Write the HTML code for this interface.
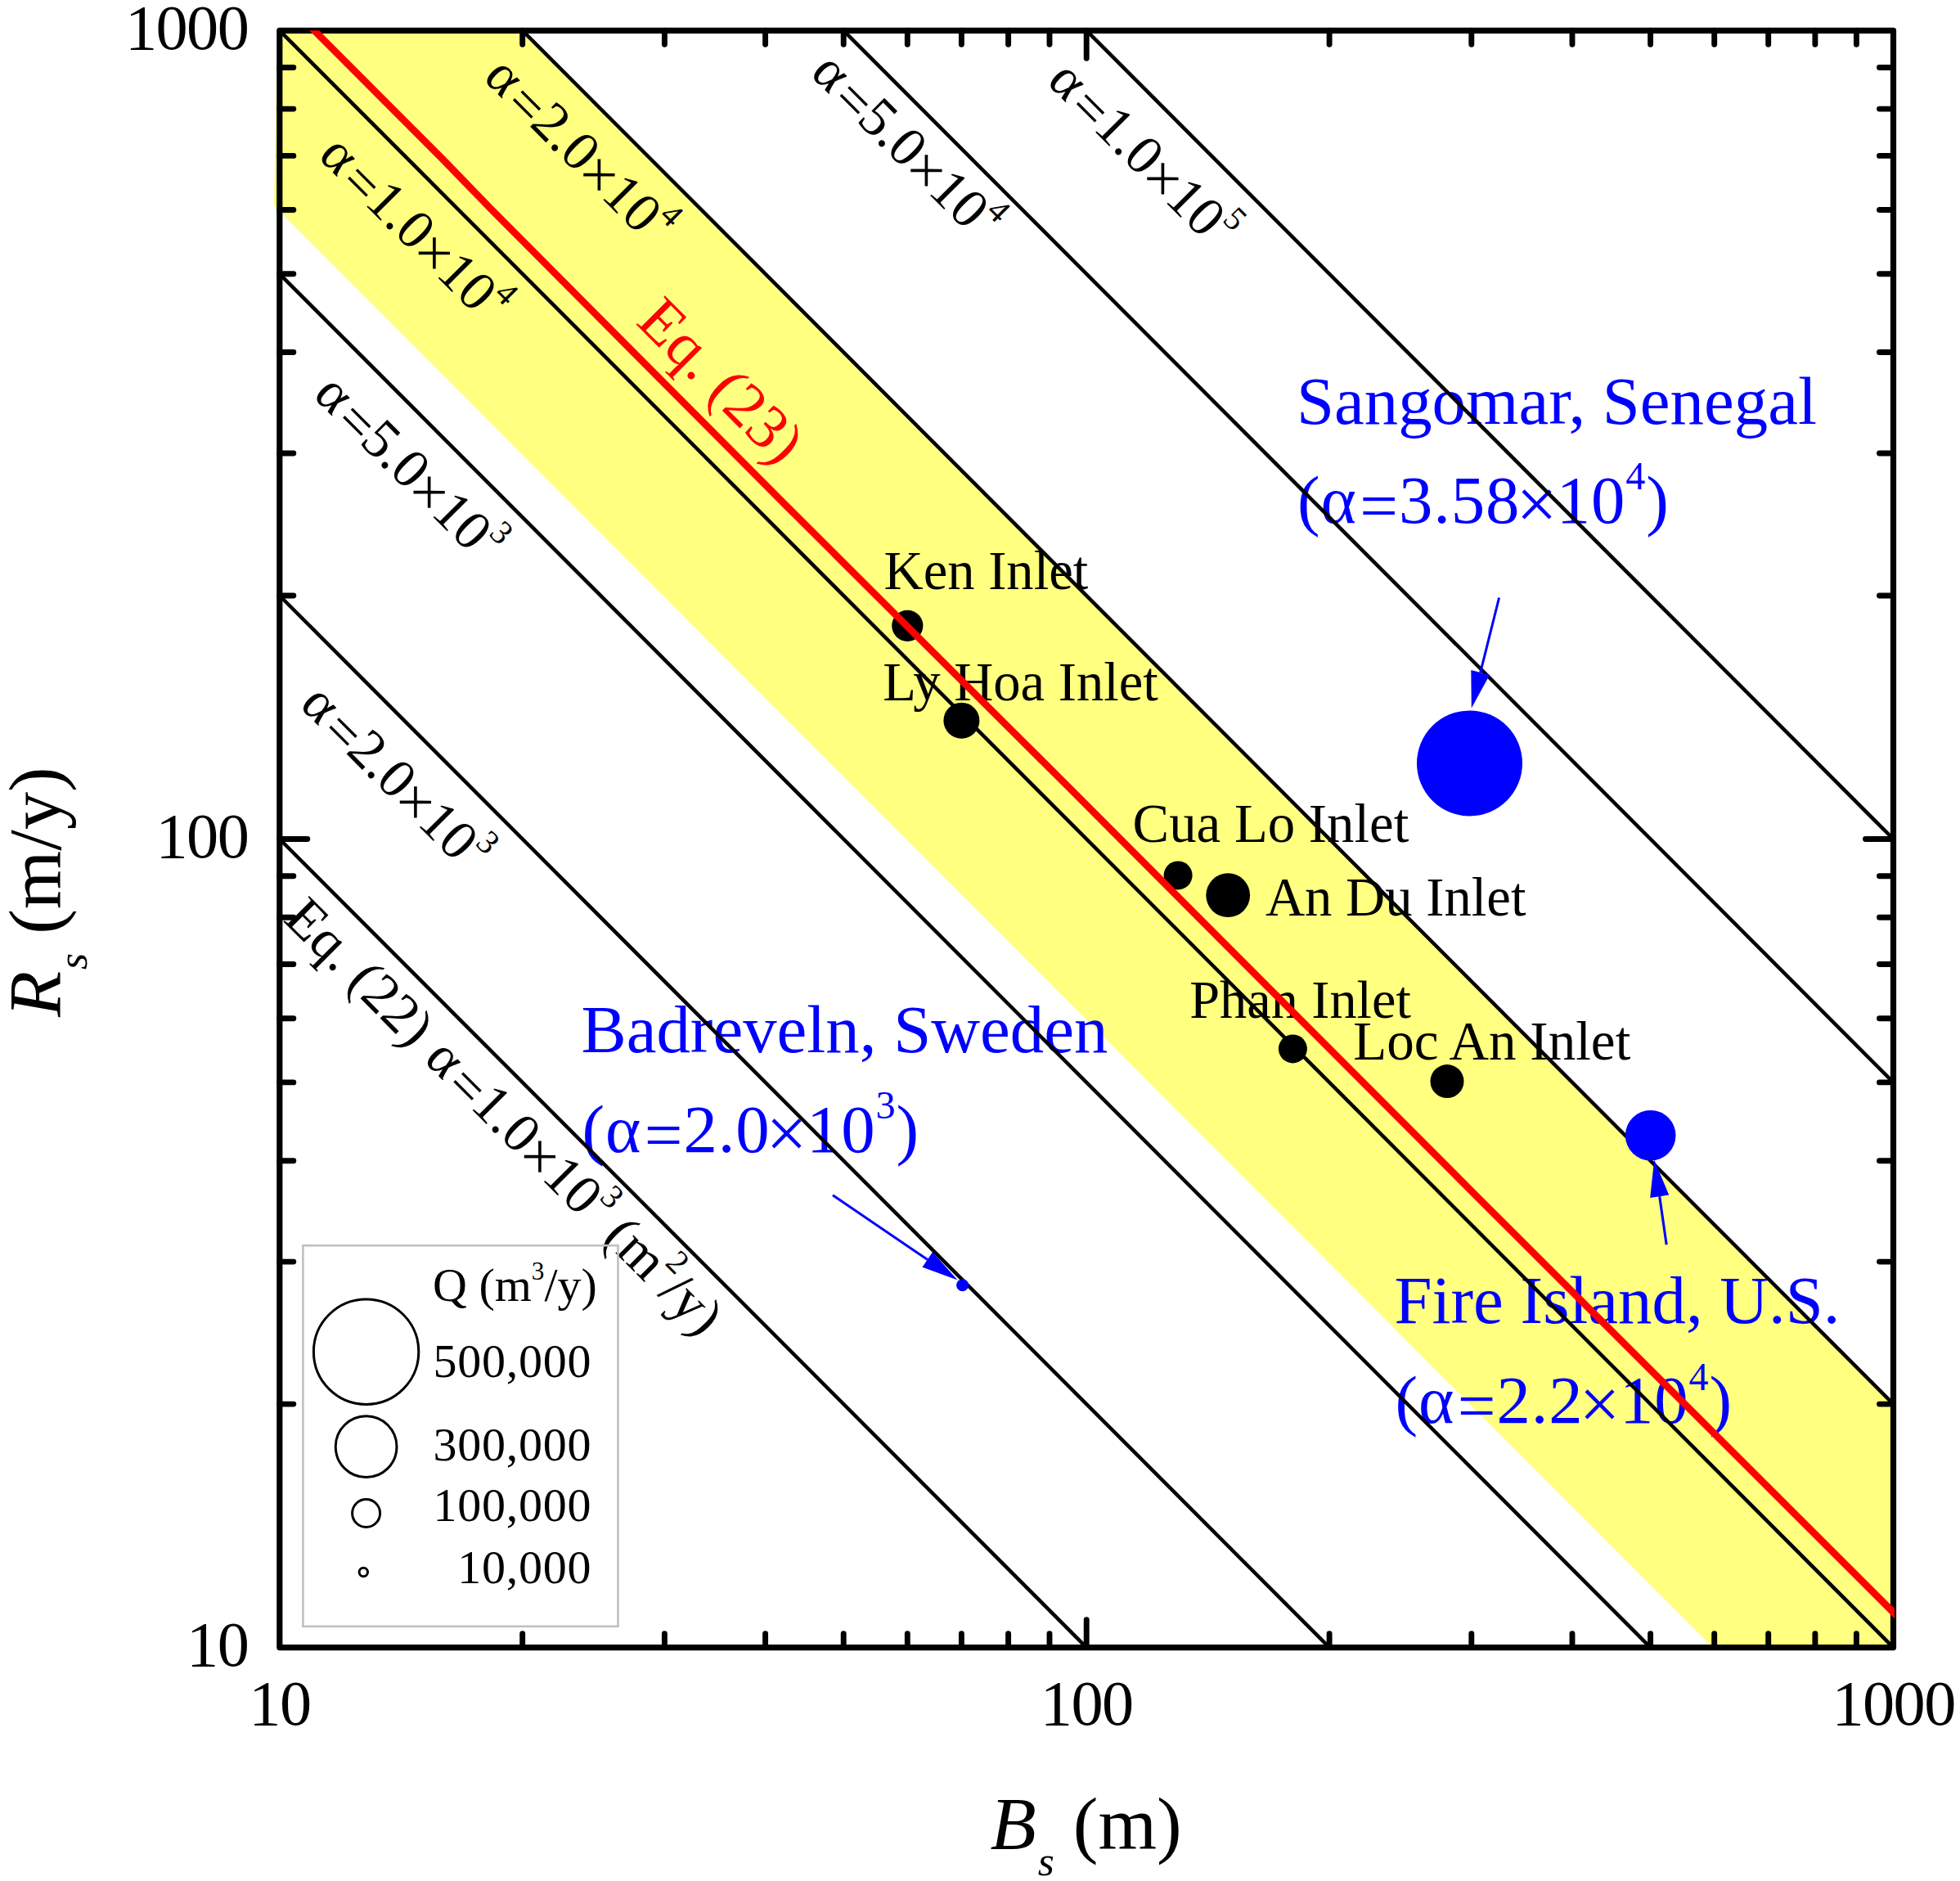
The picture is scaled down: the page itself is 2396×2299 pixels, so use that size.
<!DOCTYPE html>
<html><head><meta charset="utf-8"><title>Rs vs Bs</title>
<style>
html,body{margin:0;padding:0;background:#fff;}
svg{display:block;}
text{font-family:"Liberation Serif", serif;}
.it{font-style:italic;}
</style></head><body>
<svg width="2396" height="2299" viewBox="0 0 2396 2299">
<rect width="2396" height="2299" fill="#fff"/>

<polygon fill="#ffff80" points="339.8,37.3 638.7,37.3 2314.5,1716.1 2314.5,2013.6 2093.9,2013.6 334.8,251.3"/>
<text x="1585" y="518.2" font-size="82.8" fill="#0000ff">Sangomar, Senegal</text>
<text x="1586" y="638.6" font-size="82.8" fill="#0000ff" letter-spacing="0.9">(α<tspan dx="3.5" dy="7.5">=</tspan><tspan dy="-7.5">3.58</tspan><tspan dx="-5" dy="7.5" font-size="88.6">×</tspan><tspan dx="-1.5" dy="-7.5">10</tspan><tspan font-size="48.0" dy="-40.2">4</tspan><tspan dy="40.2">)</tspan></text>
<text x="710.5" y="1286.1" font-size="82.8" fill="#0000ff">Badreveln, Sweden</text>
<text x="711.5" y="1407.5" font-size="82.8" fill="#0000ff" letter-spacing="0.9">(α<tspan dx="3.5" dy="7.5">=</tspan><tspan dy="-7.5">2.0</tspan><tspan dx="-5" dy="7.5" font-size="88.6">×</tspan><tspan dx="-1.5" dy="-7.5">10</tspan><tspan font-size="48.0" dy="-40.2">3</tspan><tspan dy="40.2">)</tspan></text>
<text x="1704.5" y="1616.8" font-size="82.8" fill="#0000ff">Fire Island, U.S.</text>
<text x="1705.5" y="1738.9" font-size="82.8" fill="#0000ff" letter-spacing="0.9">(α<tspan dx="3.5" dy="7.5">=</tspan><tspan dy="-7.5">2.2</tspan><tspan dx="-5" dy="7.5" font-size="88.6">×</tspan><tspan dx="-1.5" dy="-7.5">10</tspan><tspan font-size="48.0" dy="-40.2">4</tspan><tspan dy="40.2">)</tspan></text>
<line x1="341.8" y1="1025.5" x2="1328.2" y2="2013.6" stroke="#000" stroke-width="4.5"/>
<line x1="341.8" y1="728.0" x2="1625.1" y2="2013.6" stroke="#000" stroke-width="4.5"/>
<line x1="341.8" y1="334.8" x2="2017.6" y2="2013.6" stroke="#000" stroke-width="4.5"/>
<line x1="341.8" y1="37.3" x2="2314.5" y2="2013.6" stroke="#000" stroke-width="4.5"/>
<line x1="638.7" y1="37.3" x2="2314.5" y2="1716.1" stroke="#000" stroke-width="4.5"/>
<line x1="1031.2" y1="37.3" x2="2314.5" y2="1322.9" stroke="#000" stroke-width="4.5"/>
<line x1="1328.2" y1="37.3" x2="2314.5" y2="1025.5" stroke="#000" stroke-width="4.5"/>
<circle cx="1109.3" cy="764.8" r="19.1" fill="#000"/>
<circle cx="1175.4" cy="880.7" r="22" fill="#000"/>
<circle cx="1440.1" cy="1069.9" r="17.5" fill="#000"/>
<circle cx="1501.2" cy="1094.2" r="26.9" fill="#000"/>
<circle cx="1580.4" cy="1281.9" r="17.5" fill="#000"/>
<circle cx="1769" cy="1321.6" r="20.5" fill="#000"/>
<circle cx="1796.5" cy="932.9" r="64.5" fill="#0000ff"/>
<circle cx="2017.7" cy="1387.7" r="30.8" fill="#0000ff"/>
<circle cx="1176.6" cy="1570.8" r="7.5" fill="#0000ff"/>
<line x1="1832.6" y1="730.5" x2="1809.7" y2="821.9" stroke="#0000ff" stroke-width="3"/>
<polygon fill="#0000ff" points="1798.8,865.6 1798.3,819.1 1821.1,824.8"/>
<line x1="1018.0" y1="1460.8" x2="1133.8" y2="1539.6" stroke="#0000ff" stroke-width="3"/>
<polygon fill="#0000ff" points="1170.6,1564.6 1127.5,1548.8 1140.1,1530.3"/>
<line x1="2037.2" y1="1521.2" x2="2028.7" y2="1462.2" stroke="#0000ff" stroke-width="3.1"/>
<polygon fill="#0000ff" points="2022.2,1417.2 2040.2,1460.6 2017.2,1463.9"/>
<text transform="translate(589.5,96.2) rotate(45)" font-size="68" fill="#000" >α<tspan dx="5.9" dy="6.1">=</tspan><tspan dy="-6.1">2.0</tspan><tspan dx="-1.3" dy="6.1" font-size="72.8">×</tspan><tspan dx="-1.3" dy="-6.1">10</tspan><tspan font-size="40.8" dy="-32.6">4</tspan></text>
<text transform="translate(387.8,192.0) rotate(45)" font-size="68" fill="#000" >α<tspan dx="5.9" dy="6.1">=</tspan><tspan dy="-6.1">1.0</tspan><tspan dx="-1.3" dy="6.1" font-size="72.8">×</tspan><tspan dx="-1.3" dy="-6.1">10</tspan><tspan font-size="40.8" dy="-32.6">4</tspan></text>
<text transform="translate(989.3,91.0) rotate(45)" font-size="68" fill="#000" >α<tspan dx="5.9" dy="6.1">=</tspan><tspan dy="-6.1">5.0</tspan><tspan dx="-1.3" dy="6.1" font-size="72.8">×</tspan><tspan dx="-1.3" dy="-6.1">10</tspan><tspan font-size="40.8" dy="-32.6">4</tspan></text>
<text transform="translate(1278.4,101.0) rotate(45)" font-size="68" fill="#000" >α<tspan dx="5.9" dy="6.1">=</tspan><tspan dy="-6.1">1.0</tspan><tspan dx="-1.3" dy="6.1" font-size="72.8">×</tspan><tspan dx="-1.3" dy="-6.1">10</tspan><tspan font-size="40.8" dy="-32.6">5</tspan></text>
<text transform="translate(381.6,484.3) rotate(45)" font-size="68" fill="#000" >α<tspan dx="5.9" dy="6.1">=</tspan><tspan dy="-6.1">5.0</tspan><tspan dx="-1.3" dy="6.1" font-size="72.8">×</tspan><tspan dx="-1.3" dy="-6.1">10</tspan><tspan font-size="40.8" dy="-32.6">3</tspan></text>
<text transform="translate(365.0,863.0) rotate(45)" font-size="68" fill="#000" >α<tspan dx="5.9" dy="6.1">=</tspan><tspan dy="-6.1">2.0</tspan><tspan dx="-1.3" dy="6.1" font-size="72.8">×</tspan><tspan dx="-1.3" dy="-6.1">10</tspan><tspan font-size="40.8" dy="-32.6">3</tspan></text>
<text transform="translate(345.1,1124.9) rotate(45)" font-size="68" fill="#000" >Eq. (22)</text>
<text transform="translate(516.9,1296.2) rotate(45)" font-size="68" fill="#000" >α<tspan dx="5.9" dy="6.1">=</tspan><tspan dy="-6.1">1.0</tspan><tspan dx="-1.3" dy="6.1" font-size="72.8">×</tspan><tspan dx="-1.3" dy="-6.1">10</tspan><tspan font-size="40.8" dy="-32.6">3</tspan><tspan dy="32.6"> (m</tspan><tspan font-size="40.8" dy="-32.6">2</tspan><tspan dy="32.6">/y)</tspan></text>
<text transform="translate(776.1,395.1) rotate(45)" font-size="76" fill="#ff0000" >Eq. (23)</text>
<text x="1080.6" y="720" font-size="66.6">Ken Inlet</text>
<text x="1079.2" y="856" font-size="66.6">Ly Hoa Inlet</text>
<text x="1384.6" y="1028.9" font-size="66.8">Cua Lo Inlet</text>
<text x="1546.9" y="1118.7" font-size="66.7">An Du Inlet</text>
<text x="1454.2" y="1244" font-size="66.3">Phan Inlet</text>
<text x="1654.2" y="1295.2" font-size="67.1">Loc An Inlet</text>
<rect x="370.4" y="1522.3" width="385.1" height="465.5" fill="none" stroke="#c0c0c0" stroke-width="2.6"/>
<circle cx="447.6" cy="1652.2" r="64.2" fill="none" stroke="#000" stroke-width="3"/>
<circle cx="447.6" cy="1768.2" r="37.4" fill="none" stroke="#000" stroke-width="3"/>
<circle cx="447.6" cy="1849.5" r="17" fill="none" stroke="#000" stroke-width="3"/>
<circle cx="444.3" cy="1921.5" r="5.2" fill="none" stroke="#000" stroke-width="3"/>
<text x="529" y="1589.7" font-size="58">Q (m<tspan font-size="31.3" dy="-26.1">3</tspan><tspan dy="26.1">/y)</tspan></text>
<text x="723.3" y="1682.5" font-size="58" text-anchor="end" letter-spacing="0.75">500,000</text>
<text x="723.3" y="1784.9" font-size="58" text-anchor="end" letter-spacing="0.75">300,000</text>
<text x="723.3" y="1859" font-size="58" text-anchor="end" letter-spacing="0.75">100,000</text>
<text x="723.3" y="1934.9" font-size="58" text-anchor="end" letter-spacing="0.75">10,000</text>
<g stroke="#000" stroke-width="6.9" stroke-linecap="round" fill="none">
<path d="M638.7,2013.6v-17M638.7,37.3v17M341.8,1716.1h17M2314.5,1716.1h-17"/>
<path d="M812.4,2013.6v-17M812.4,37.3v17M341.8,1542.1h17M2314.5,1542.1h-17"/>
<path d="M935.6,2013.6v-17M935.6,37.3v17M341.8,1418.7h17M2314.5,1418.7h-17"/>
<path d="M1031.2,2013.6v-17M1031.2,37.3v17M341.8,1322.9h17M2314.5,1322.9h-17"/>
<path d="M1109.3,2013.6v-17M1109.3,37.3v17M341.8,1244.7h17M2314.5,1244.7h-17"/>
<path d="M1175.4,2013.6v-17M1175.4,37.3v17M341.8,1178.5h17M2314.5,1178.5h-17"/>
<path d="M1232.6,2013.6v-17M1232.6,37.3v17M341.8,1121.2h17M2314.5,1121.2h-17"/>
<path d="M1283.0,2013.6v-17M1283.0,37.3v17M341.8,1070.7h17M2314.5,1070.7h-17"/>
<path d="M1328.2,2013.6v-34M1328.2,37.3v34M341.8,1025.5h34M2314.5,1025.5h-34"/>
<path d="M1625.1,2013.6v-17M1625.1,37.3v17M341.8,728.0h17M2314.5,728.0h-17"/>
<path d="M1798.8,2013.6v-17M1798.8,37.3v17M341.8,554.0h17M2314.5,554.0h-17"/>
<path d="M1922.0,2013.6v-17M1922.0,37.3v17M341.8,430.5h17M2314.5,430.5h-17"/>
<path d="M2017.6,2013.6v-17M2017.6,37.3v17M341.8,334.8h17M2314.5,334.8h-17"/>
<path d="M2095.7,2013.6v-17M2095.7,37.3v17M341.8,256.5h17M2314.5,256.5h-17"/>
<path d="M2161.7,2013.6v-17M2161.7,37.3v17M341.8,190.4h17M2314.5,190.4h-17"/>
<path d="M2218.9,2013.6v-17M2218.9,37.3v17M341.8,133.1h17M2314.5,133.1h-17"/>
<path d="M2269.4,2013.6v-17M2269.4,37.3v17M341.8,82.5h17M2314.5,82.5h-17"/>
<rect x="341.8" y="37.3" width="1972.7" height="1976.3" stroke-width="7.2" stroke-linejoin="round"/>
</g>
<clipPath id="pc"><rect x="341.8" y="37.3" width="1974.2" height="1976.3"/></clipPath>
<polyline clip-path="url(#pc)" fill="none" stroke="#ff0000" stroke-width="8.6" stroke-linejoin="round" points="330.0,-17.0 383.9,37.0 540.0,193.4 600.0,255.2 740.0,396.0 960.0,617.0 1250.0,906.0 1310.0,965.8 1800.0,1457.0 2314.0,1970.1 2360.0,2016.2"/>
<text x="341.9" y="2108" font-size="78.3" text-anchor="middle" letter-spacing="-1.6">10</text>
<text x="303.2" y="2036.2" font-size="78.3" text-anchor="end" letter-spacing="-1.6">10</text>
<text x="1328.2" y="2108" font-size="78.3" text-anchor="middle" letter-spacing="-1.6">100</text>
<text x="303.2" y="1048.0" font-size="78.3" text-anchor="end" letter-spacing="-1.6">100</text>
<text x="2314.6" y="2108" font-size="78.3" text-anchor="middle" letter-spacing="-1.6">1000</text>
<text x="303.2" y="59.9" font-size="78.3" text-anchor="end" letter-spacing="-1.6">1000</text>
<text x="1210.5" y="2259.8" font-size="92"><tspan class="it">B</tspan><tspan class="it" font-size="51.5" dx="2" dy="32.2">s</tspan><tspan dy="-32.2"> (m)</tspan></text>
<text transform="translate(73.6,1243.1) rotate(-90)" font-size="92"><tspan class="it">R</tspan><tspan class="it" font-size="51.5" dx="2" dy="32.2">s</tspan><tspan dy="-32.2"> (m/y)</tspan></text>
</svg></body></html>
